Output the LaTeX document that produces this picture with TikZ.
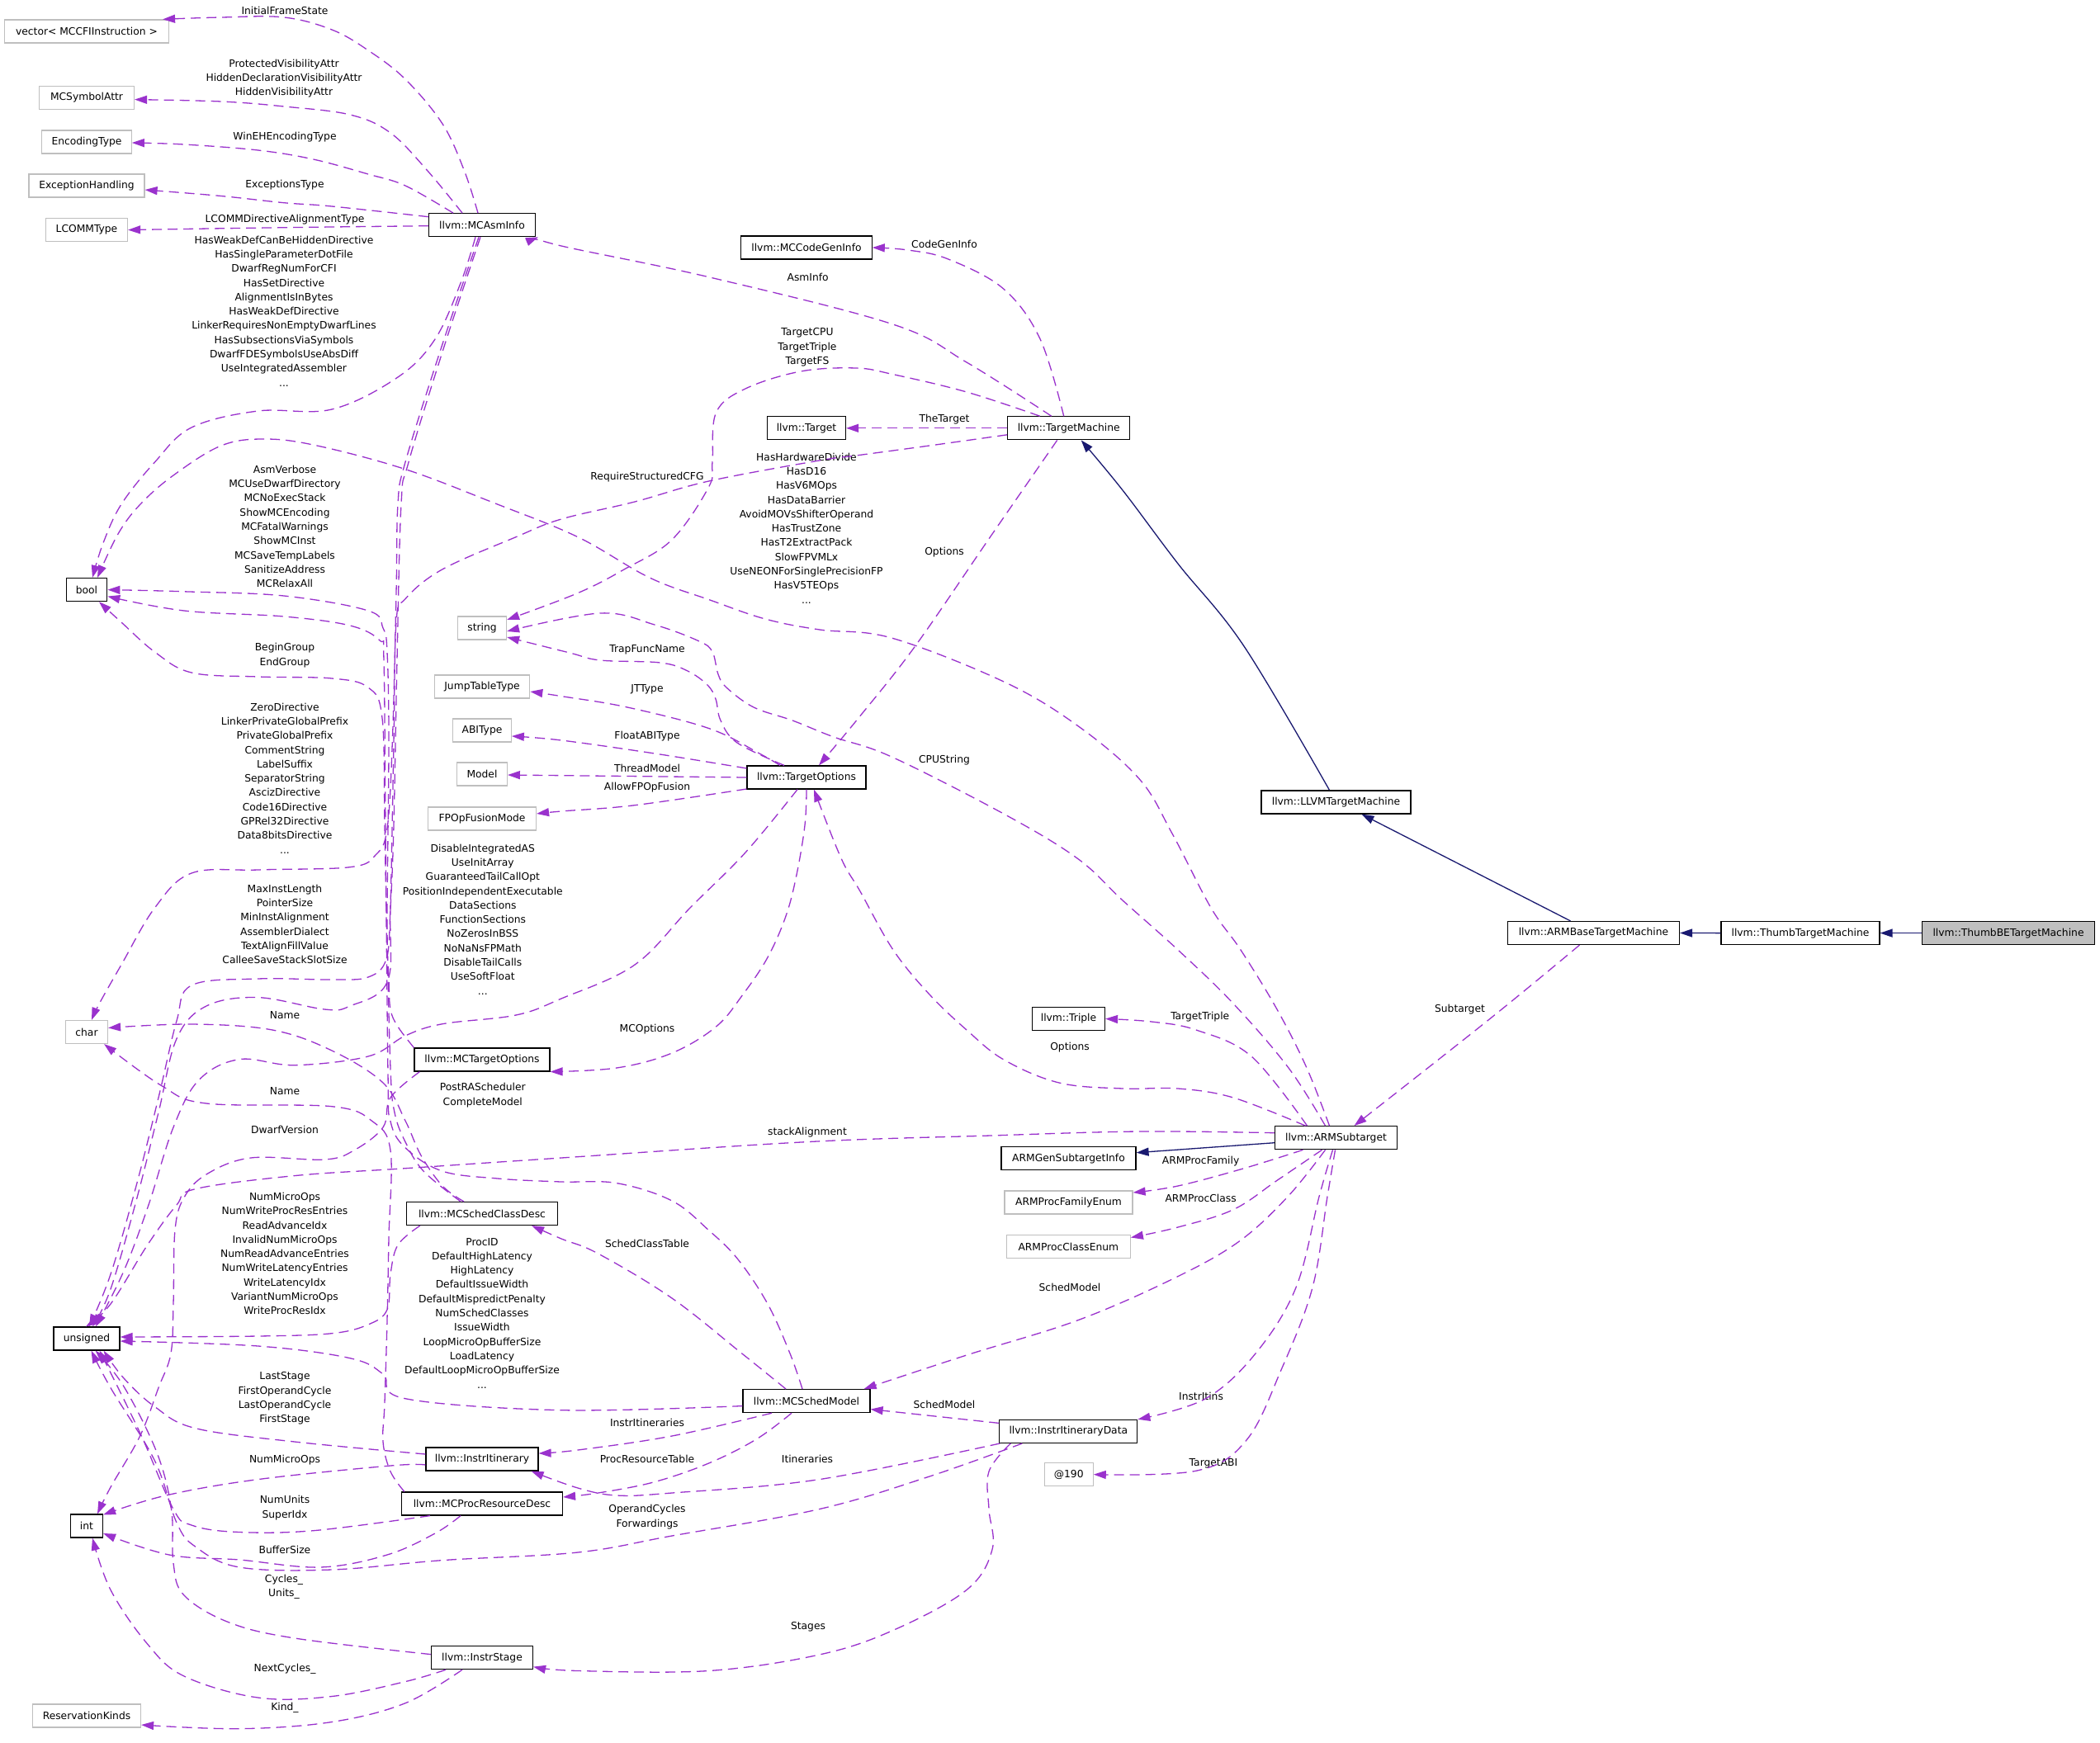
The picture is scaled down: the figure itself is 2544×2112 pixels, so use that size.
\documentclass[tikz,border=0pt]{standalone}
\usepackage{fontspec}
\setmainfont{DejaVu Sans}
\usetikzlibrary{arrows.meta}
\definecolor{edgepurple}{HTML}{9A32CD}
\definecolor{inhblue}{HTML}{191970}
\definecolor{grayborder}{HTML}{BFBFBF}
\newcommand{\dfont}{\fontsize{12.3pt}{17.3pt}\selectfont}
\tikzset{
  cls/.style={draw=black, fill=white, line width=1.2pt, minimum height=28pt, inner sep=0pt, font=\dfont, text=black},
  ext/.style={cls, draw=grayborder},
  lab/.style={font=\dfont, align=center, inner sep=0pt, text=black},
  usedge/.style={draw=edgepurple, line width=1.3pt, dash pattern=on 12pt off 7pt, -{Triangle[length=15pt,width=10pt]}},
  inhedge/.style={draw=inhblue, line width=1.3pt, -{Triangle[length=15pt,width=10pt]}},
  sm/.style={smooth, tension=0.6},
}
\begin{document}
\begin{tikzpicture}[x=1pt,y=-1pt]
\fill[white] (0,0) rectangle (2544,2112);
\useasboundingbox (0,0) rectangle (2544,2112);

% ---------- nodes ----------
\node[ext, minimum width=199pt] (vector) at (105,38) {vector< MCCFIInstruction >};
\node[ext, minimum width=115pt] (MCSymbolAttr) at (105,118.6) {MCSymbolAttr};
\node[ext, minimum width=108.5pt] (EncodingType) at (105,172) {EncodingType};
\node[ext, minimum width=140pt] (ExceptionHandling) at (105,225) {ExceptionHandling};
\node[ext, minimum width=99pt] (LCOMMType) at (105,278.6) {LCOMMType};
\node[cls, minimum width=128.6pt] (MCAsmInfo) at (584,272.7) {llvm::MCAsmInfo};
\node[cls, minimum width=49.5pt] (bool) at (105,714.6) {bool};
\node[ext, minimum width=59pt] (string) at (584,761) {string};
\node[ext, minimum width=115.5pt] (JumpTableType) at (584,832) {JumpTableType};
\node[ext, minimum width=70.5pt] (ABIType) at (584,885) {ABIType};
\node[ext, minimum width=60.7pt] (Model) at (584,938) {Model};
\node[ext, minimum width=131pt] (FPOpFusionMode) at (584,992) {FPOpFusionMode};
\node[ext, minimum width=51pt] (char) at (105,1250.5) {char};
\node[cls, minimum width=164pt] (MCTargetOptions) at (584,1284) {llvm::MCTargetOptions};
\node[cls, minimum width=183pt] (MCSchedClassDesc) at (584,1470.5) {llvm::MCSchedClassDesc};
\node[cls, minimum width=80pt] (unsigned) at (105,1622) {unsigned};
\node[cls, minimum width=136pt] (InstrItinerary) at (584,1768) {llvm::InstrItinerary};
\node[cls, minimum width=195pt] (MCProcResourceDesc) at (584,1822) {llvm::MCProcResourceDesc};
\node[cls, minimum width=39pt] (int) at (105,1849) {int};
\node[cls, minimum width=123pt] (InstrStage) at (584,2008.6) {llvm::InstrStage};
\node[ext, minimum width=131pt] (ReservationKinds) at (105,2079) {ReservationKinds};
\node[cls, minimum width=158.4pt] (MCCodeGenInfo) at (977,300) {llvm::MCCodeGenInfo};
\node[cls, minimum width=95pt] (Target) at (977,518.8) {llvm::Target};
\node[cls, minimum width=148pt] (TargetMachine) at (1294.7,518.8) {llvm::TargetMachine};
\node[cls, minimum width=144pt] (TargetOptions) at (977,942) {llvm::TargetOptions};
\node[cls, minimum width=88pt] (Triple) at (1294.5,1234.5) {llvm::Triple};
\node[cls, minimum width=163pt] (ARMGenSubtargetInfo) at (1294.5,1403.7) {ARMGenSubtargetInfo};
\node[ext, minimum width=155pt] (ARMProcFamilyEnum) at (1294.5,1457) {ARMProcFamilyEnum};
\node[ext, minimum width=150pt] (ARMProcClassEnum) at (1294.3,1510.5) {ARMProcClassEnum};
\node[cls, minimum width=154pt] (MCSchedModel) at (977,1697.6) {llvm::MCSchedModel};
\node[cls, minimum width=167pt] (InstrItineraryData) at (1294.3,1734.4) {llvm::InstrItineraryData};
\node[ext, minimum width=59pt] (a190) at (1294.7,1786.6) {@190};
\node[cls, minimum width=181pt] (LLVMTargetMachine) at (1618.5,972) {llvm::LLVMTargetMachine};
\node[cls, minimum width=208pt] (ARMBaseTargetMachine) at (1930.5,1130.5) {llvm::ARMBaseTargetMachine};
\node[cls, minimum width=148pt] (ARMSubtarget) at (1618.5,1378.7) {llvm::ARMSubtarget};
\node[cls, minimum width=192pt] (ThumbTargetMachine) at (2181,1130.6) {llvm::ThumbTargetMachine};
\node[cls, minimum width=209.5pt, fill=grayborder] (ThumbBETargetMachine) at (2433,1130.6) {llvm::ThumbBETargetMachine};

% ---------- labels ----------
\node[lab] (lIFS) at (345,12.5) {InitialFrameState};
\node[lab] (lPVA) at (344,95) {ProtectedVisibilityAttr\\HiddenDeclarationVisibilityAttr\\HiddenVisibilityAttr};
\node[lab] (lWEH) at (345,166) {WinEHEncodingType};
\node[lab] (lET) at (345,224.6) {ExceptionsType};
\node[lab] (lLC) at (345,266) {LCOMMDirectiveAlignmentType};
\node[lab] (lHW) at (344,377) {HasWeakDefCanBeHiddenDirective\\HasSingleParameterDotFile\\DwarfRegNumForCFI\\HasSetDirective\\AlignmentIsInBytes\\HasWeakDefDirective\\LinkerRequiresNonEmptyDwarfLines\\HasSubsectionsViaSymbols\\DwarfFDESymbolsUseAbsDiff\\UseIntegratedAssembler\\...};
\node[lab] (lAV) at (345,638) {AsmVerbose\\MCUseDwarfDirectory\\MCNoExecStack\\ShowMCEncoding\\MCFatalWarnings\\ShowMCInst\\MCSaveTempLabels\\SanitizeAddress\\MCRelaxAll};
\node[lab] (lBG) at (345,794) {BeginGroup\\EndGroup};
\node[lab] (lZD) at (345,943) {ZeroDirective\\LinkerPrivateGlobalPrefix\\PrivateGlobalPrefix\\CommentString\\LabelSuffix\\SeparatorString\\AscizDirective\\Code16Directive\\GPRel32Directive\\Data8bitsDirective\\...};
\node[lab] (lMIL) at (345,1120) {MaxInstLength\\PointerSize\\MinInstAlignment\\AssemblerDialect\\TextAlignFillValue\\CalleeSaveStackSlotSize};
\node[lab] (lN1) at (345,1230) {Name};
\node[lab] (lN2) at (345,1322.5) {Name};
\node[lab] (lDV) at (345,1368.6) {DwarfVersion};
\node[lab] (lNMO) at (345,1519) {NumMicroOps\\NumWriteProcResEntries\\ReadAdvanceIdx\\InvalidNumMicroOps\\NumReadAdvanceEntries\\NumWriteLatencyEntries\\WriteLatencyIdx\\VariantNumMicroOps\\WriteProcResIdx};
\node[lab] (lLS) at (345,1694.5) {LastStage\\FirstOperandCycle\\LastOperandCycle\\FirstStage};
\node[lab] (lNMO2) at (345,1769) {NumMicroOps};
\node[lab] (lNU) at (345,1827) {NumUnits\\SuperIdx};
\node[lab] (lBS) at (345,1877.5) {BufferSize};
\node[lab] (lCY) at (344,1923) {Cycles\_\\Units\_};
\node[lab] (lNC) at (345,2022) {NextCycles\_};
\node[lab] (lKD) at (345,2069) {Kind\_};
\node[lab] (lTCPU) at (978,421) {TargetCPU\\TargetTriple\\TargetFS};
\node[lab] (lCGI) at (1144,295.7) {CodeGenInfo};
\node[lab] (lAI) at (978.7,335.7) {AsmInfo};
\node[lab] (lTT) at (1144,508.6) {TheTarget};
\node[lab] (lHHD) at (977,640) {HasHardwareDivide\\HasD16\\HasV6MOps\\HasDataBarrier\\AvoidMOVsShifterOperand\\HasTrustZone\\HasT2ExtractPack\\SlowFPVMLx\\UseNEONForSinglePrecisionFP\\HasV5TEOps\\...};
\node[lab] (lRSC) at (784,578) {RequireStructuredCFG};
\node[lab] (lOpt1) at (1144,668.6) {Options};
\node[lab] (lTFN) at (784,787.5) {TrapFuncName};
\node[lab] (lJT) at (784,835.7) {JTType};
\node[lab] (lFAT) at (784,892.5) {FloatABIType};
\node[lab] (lTMo) at (784,931.4) {ThreadModel};
\node[lab] (lAFF) at (784,954.3) {AllowFPOpFusion};
\node[lab] (lCPU) at (1144,920.7) {CPUString};
\node[lab] (lDIA) at (584.8,1114) {DisableIntegratedAS\\UseInitArray\\GuaranteedTailCallOpt\\PositionIndependentExecutable\\DataSections\\FunctionSections\\NoZerosInBSS\\NoNaNsFPMath\\DisableTailCalls\\UseSoftFloat\\...};
\node[lab] (lPRA) at (584.8,1327) {PostRAScheduler\\CompleteModel};
\node[lab] (lMCO) at (784,1247.5) {MCOptions};
\node[lab] (lOpt2) at (1296,1268.6) {Options};
\node[lab] (lTTr) at (1453.75,1231.8) {TargetTriple};
\node[lab] (lSub) at (1768.5,1222.9) {Subtarget};
\node[lab] (lSA) at (978,1372.5) {stackAlignment};
\node[lab] (lAPF) at (1454.6,1407.5) {ARMProcFamily};
\node[lab] (lAPC) at (1454.6,1451.4) {ARMProcClass};
\node[lab] (lSCT) at (784,1506.4) {SchedClassTable};
\node[lab] (lSM1) at (1296,1560) {SchedModel};
\node[lab] (lPID) at (584,1591) {ProcID\\DefaultHighLatency\\HighLatency\\DefaultIssueWidth\\DefaultMispredictPenalty\\NumSchedClasses\\IssueWidth\\LoopMicroOpBufferSize\\LoadLatency\\DefaultLoopMicroOpBufferSize\\...};
\node[lab] (lII) at (784,1724) {InstrItineraries};
\node[lab] (lSM2) at (1144,1702) {SchedModel};
\node[lab] (lPRT) at (784,1768) {ProcResourceTable};
\node[lab] (lIt) at (978,1768) {Itineraries};
\node[lab] (lOC) at (784,1838) {OperandCycles\\Forwardings};
\node[lab] (lIIs) at (1455,1692) {InstrItins};
\node[lab] (lTABI) at (1470,1773) {TargetABI};
\node[lab] (lSt) at (979,1971) {Stages};

% ---------- inheritance ----------
\draw[inhedge] (ThumbBETargetMachine.west) -- (ThumbTargetMachine.east);
\draw[inhedge] (ThumbTargetMachine.west) -- (ARMBaseTargetMachine.east);
\draw[inhedge] ([xshift=-28pt]ARMBaseTargetMachine.north) -- ([xshift=31pt]LLVMTargetMachine.south);
\draw[inhedge] plot[sm] coordinates {([xshift=-8pt]LLVMTargetMachine.north) (1507,783) (1427,683) (1360,594) ([xshift=15pt]TargetMachine.south)};
\draw[inhedge] ([yshift=-6pt]ARMSubtarget.west) -- ([yshift=7pt]ARMGenSubtargetInfo.east);

% ---------- MCAsmInfo uses ----------
\draw[usedge] plot[sm] coordinates {([xshift=-5pt]MCAsmInfo.north) (562.5,207) (536,150) (491,96) (446,61) (402,36) (344,21) (268,21) ([xshift=-8pt]vector.north east)};
\draw[usedge] plot[sm] coordinates {([xshift=-24pt]MCAsmInfo.north) (518,207) (473,161) (424,139) (344,129) (268,123) ([yshift=-2pt]MCSymbolAttr.east)};
\draw[usedge] plot[sm] coordinates {([xshift=-35pt]MCAsmInfo.north) (491,225) (446,211) (379.5,193) (312.5,182) (223,175) ([yshift=-1pt]EncodingType.east)};
\draw[usedge] plot[sm] coordinates {([yshift=10pt]MCAsmInfo.west) (402,250) (344,245.7) (268,237.5) ([yshift=-5pt]ExceptionHandling.east)};
\draw[usedge] plot[sm] coordinates {([yshift=-1pt]MCAsmInfo.west) (402,275) (268,276.8) (LCOMMType.east)};
\draw[usedge] plot[sm] coordinates {([xshift=-8pt]MCAsmInfo.south) (558,343) (527,411) (482,457) (402,496) (312.5,498) (232,518) (187.5,560) (147,611) (125,658) ([xshift=7pt]bool.north)};
\draw[usedge] plot[sm] coordinates {([xshift=-4pt]MCAsmInfo.south) (535,420) (491,560) (482,611) (480,718.6) (475.4,897) (469,1004) (455,1036) (424,1050.7) (312.5,1054) (232,1058) (187.5,1100) (147,1169) (120.5,1215.7) ([xshift=6pt]char.north)};
\draw[usedge] plot[sm] coordinates {([xshift=-2pt]MCAsmInfo.south) (538,420) (495,560) (486,611) (481,800) (477,1000) (473,1100) (468,1162) (446,1184) (402,1187) (312,1186) (232,1194) (214,1237) (192,1330) (165,1437) (134,1544) ([xshift=3pt]unsigned.north)};

% ---------- TargetMachine uses ----------
\draw[usedge] plot[sm] coordinates {([xshift=-6pt]TargetMachine.north) (1260,410.7) (1215.7,350) (1148.75,314) (1100,303) (MCCodeGenInfo.east)};
\draw[usedge] plot[sm] coordinates {([xshift=-21pt]TargetMachine.north) (1171,439) (1081.8,393) (858.6,335.7) (680,298) ([xshift=3pt]MCAsmInfo.south east)};
\draw[usedge] (TargetMachine.west) -- (Target.east);
\draw[usedge] plot[sm] coordinates {([xshift=-35pt]TargetMachine.north) (1171,475) (1081.8,453.6) (1037,446) (970,450) (903,471) (867.5,500) (863,560) (858.6,590) (814,654) (756,690) (700,718.6) ([yshift=10pt]string.east)};
\draw[usedge] plot[sm] coordinates {([yshift=-8pt]TargetMachine.west) (1126,540) (1037,552) (992.5,558) (858.6,583) (769,608) (680,629) (625,650.7) (535.7,690) (491,725.7) (480,754) (477,900) (473,1100) (469,1190) (424,1219) (393,1223) (312.5,1208.6) (250,1219) (214,1258.6) (192,1348) (165,1455) (134,1562) ([xshift=7pt]unsigned.north)};
\draw[usedge] plot[sm] coordinates {([xshift=-14pt]TargetMachine.south) (1200,650) (1108.6,783) (1040,870) ([xshift=15pt]TargetOptions.north)};

% ---------- TargetOptions uses ----------
\draw[usedge] plot[sm] coordinates {([xshift=-27pt]TargetOptions.north) (893,900) (873,873) (867,847) (857,830) (833,813) (800,803) (727,800) (690,791) ([yshift=-11pt]string.east)};
\draw[usedge] plot[sm] coordinates {([xshift=-32pt]TargetOptions.north) (920,913) (860,883) (760,857) (680,843.6) ([yshift=-6pt]JumpTableType.east)};
\draw[usedge] plot[sm] coordinates {([yshift=11pt]TargetOptions.west) (793,913) (680,897) ([yshift=-7pt]ABIType.east)};
\draw[usedge] (TargetOptions.west) -- ([yshift=-1pt]Model.east);
\draw[usedge] plot[sm] coordinates {([yshift=-14pt]TargetOptions.west) (769,975.7) (680,983) ([yshift=6pt]FPOpFusionMode.east)};
\draw[usedge] plot[sm] coordinates {(TargetOptions.south) (975,1000) (965,1060) (952,1110) (930,1160) (900,1205) (867.5,1244) (814,1276) (747,1294) (MCTargetOptions.south east)};
\draw[usedge] plot[sm] coordinates {([xshift=-11pt]TargetOptions.south) (903,1033) (836,1100) (769,1169) (680,1210) (625,1230) (536,1240.7) (491,1255) (446,1280) (357,1290.7) (290,1283.6) (241,1308.6) (210,1366) (180,1460) (150,1540) ([xshift=11pt]unsigned.north)};

% ---------- MCTargetOptions uses ----------
\draw[usedge] plot[sm] coordinates {([xshift=7pt]MCTargetOptions.south west) (473,1330) (464,1366) (428.6,1394) (393,1405) (303.6,1403) (250,1423) (223,1451) (212,1490.7) (210,1580) (207,1640) (192,1681.6) (169.6,1740) (134,1802) ([xshift=13pt]int.north)};
\draw[usedge] plot[sm] coordinates {(MCTargetOptions.north west) (482,1244) (473,1223) (471,1187) (469,1116) (471,900) (469,790) (464,761) (446,740) (344,722) (223,716.8) (bool.east)};

% ---------- MCSchedModel uses ----------
\draw[usedge] plot[sm] coordinates {([xshift=-5pt]MCSchedModel.north) (957,1640) (930,1580) (894,1526) (858.6,1490.7) (814,1455) (747,1433.6) (680,1432) (602.7,1428) (535.7,1419) (491,1390.7) (473,1358.6) (470,1300) (467,1000) (465,800) (460,776) (424,758) (344,747) (223,740) ([yshift=-8pt]bool.east)};
\draw[usedge] plot[sm] coordinates {([xshift=-25pt]MCSchedModel.north) (898.75,1640) (814,1573) (724.6,1519) (680,1501) ([xshift=-32pt]MCSchedClassDesc.south east)};
\draw[usedge] plot[sm] coordinates {([yshift=-6pt]MCSchedModel.west) (680,1708.7) (491,1694.7) (464,1665) (424,1645.7) (312.5,1631) ([yshift=-3pt]unsigned.east)};
\draw[usedge] plot[sm] coordinates {([xshift=-42pt]MCSchedModel.south) (814,1740) (700,1757) ([yshift=7pt]InstrItinerary.east)};
\draw[usedge] plot[sm] coordinates {([xshift=-18pt]MCSchedModel.south) (916.6,1743.7) (858.6,1773) (791.6,1796) (724.6,1809) ([yshift=8pt]MCProcResourceDesc.east)};

% ---------- MCSchedClassDesc uses ----------
\draw[usedge] plot[sm] coordinates {([xshift=-26pt]MCSchedClassDesc.north) (513,1419) (491,1383.6) (478,1348) (473,1294) (468,1100) (466,1000) (463,870) (446,833) (402,822) (312.5,820) (232,815) (187.5,790) (147,754) ([xshift=15pt]bool.south)};
\draw[usedge] plot[sm] coordinates {([xshift=-22pt]MCSchedClassDesc.north) (536,1437) (510,1400) (491,1358) (464,1312) (402,1273) (330,1248) (232,1241) ([yshift=5pt]char.east)};
\draw[usedge] plot[sm] coordinates {([xshift=17pt]MCSchedClassDesc.south west) (482,1508.6) (473,1544) (469,1587) (446,1605) (402,1615.7) (312.5,1619) ([yshift=2pt]unsigned.east)};

% ---------- MCProcResourceDesc uses ----------
\draw[usedge] plot[sm] coordinates {([xshift=4pt]MCProcResourceDesc.north west) (473,1783) (464,1747) (466,1700) (469,1600) (471,1500) (473,1394) (451,1358.6) (402,1340.7) (250,1337) (196,1315.7) ([xshift=-5pt]char.south east)};
\draw[usedge] plot[sm] coordinates {([xshift=35pt]MCProcResourceDesc.south west) (379.5,1854.7) (285.7,1856.3) (232,1848) (210,1828.6) (170,1737) ([xshift=-25pt]unsigned.south east)};
\draw[usedge] plot[sm] coordinates {([xshift=-26pt]MCProcResourceDesc.south) (527,1858) (469,1884) (388,1899) (290,1890) (205,1884) ([yshift=-9pt]int.east)};

% ---------- InstrItinerary uses ----------
\draw[usedge] plot[sm] coordinates {([yshift=6pt]InstrItinerary.west) (357,1747) (236.6,1730.6) (187.5,1704.5) (150,1670) ([xshift=-20pt]unsigned.south east)};
\draw[usedge] plot[sm] coordinates {([yshift=-7pt]InstrItinerary.west) (473,1776) (312.5,1792.6) (201,1812) ([yshift=-1pt]int.north east)};

% ---------- InstrStage uses ----------
\draw[usedge] plot[sm] coordinates {([xshift=-44pt]InstrStage.south) (491,2037.6) (402,2055.5) (312.5,2057) (223,2031) (178.6,1992) (134,1926.5) ([xshift=7pt]int.south)};
\draw[usedge] plot[sm] coordinates {([xshift=-24pt]InstrStage.south) (491,2063.7) (402,2086.5) (290,2094.7) ([yshift=-11pt]ReservationKinds.east)};
\draw[usedge] plot[sm] coordinates {([yshift=4pt]InstrStage.west) (357,1985) (277,1965.7) (223,1933) (210,1894) (207.6,1828.6) (190,1760) (150,1680) ([xshift=-30pt]unsigned.south east)};

% ---------- InstrItineraryData uses ----------
\draw[usedge] plot[sm] coordinates {([xshift=-56pt]InstrItineraryData.south) (1126,1789) (992.5,1828.6) (814,1861) (700,1881) (536,1890.6) (402,1902) (290,1899) (236.6,1874) (214,1845) (187.5,1770) (134,1681.6) ([xshift=-35pt]unsigned.south east)};
\draw[usedge] plot[sm] coordinates {([xshift=-70pt]InstrItineraryData.south) (1198,1783) (1198,1828.6) (1202,1877.5) (1171,1926.5) (1081.8,1975.5) (992.5,2005) (858.6,2024.5) (700,2024.5) ([yshift=-11pt]InstrStage.east)};
\draw[usedge] plot[sm] coordinates {([xshift=-83pt]InstrItineraryData.south) (992.5,1792.6) (814,1809) (747,1812) (700,1803) ([xshift=-9pt]InstrItinerary.south east)};
\draw[usedge] ([yshift=10pt]InstrItineraryData.west) -- ([yshift=-10pt]MCSchedModel.east);

% ---------- ARMSubtarget uses ----------
\draw[usedge] plot[sm] coordinates {([xshift=-8pt]ARMSubtarget.north) (1583,1294) (1547,1223) (1503,1151) (1467,1100) (1420,1010) (1380,943.6) (1305,879) (1216,826) (1080,773) (993,763) (927,750) (860,727) (787,700) (700,650.7) (600,610) (491,568.6) (384,540) (321,532) (268,540) (210,576) (170,611) (143,647) ([xshift=13pt]bool.north)};
\draw[usedge] plot[sm] coordinates {([xshift=-13pt]ARMSubtarget.north) (1561,1294) (1494,1216) (1427,1151) (1360,1091) (1305,1040) (1215.7,986) (1080,917) (1010,893) (960,873) (913,857) (880,833) (870,817) (863,790) (847,777) (793,757) (727,743) ([yshift=-4pt]string.east)};
\draw[usedge] plot[sm] coordinates {([xshift=-35pt]ARMSubtarget.north) (1516,1280) (1449,1248) (1395,1238) (Triple.east)};
\draw[usedge] plot[sm] coordinates {([xshift=-37pt]ARMSubtarget.north) (1494,1330) (1427,1319) (1360,1319) (1283,1312) (1216,1284) (1171,1248) (1126,1205) (1082,1151) (1042,1080) (1019,1040) ([xshift=9pt]TargetOptions.south)};
\draw[usedge] plot[sm] coordinates {([yshift=6pt]ARMSubtarget.west) (1380,1371) (1200,1376) (978,1383.6) (680,1403) (491,1415.7) (357,1424.6) (236.6,1440.7) (214,1460) (178.6,1508.6) (134,1580) ([xshift=-1pt]unsigned.north)};
\draw[usedge] plot[sm] coordinates {([xshift=-40pt]ARMSubtarget.south) (1507,1415.7) (1427,1437) ([yshift=12pt]ARMProcFamilyEnum.east)};
\draw[usedge] plot[sm] coordinates {([xshift=-17pt]ARMSubtarget.south) (1547.5,1430) (1494,1465.7) (1427,1487) ([yshift=11pt]ARMProcClassEnum.east)};
\draw[usedge] plot[sm] coordinates {([xshift=-13pt]ARMSubtarget.south) (1560,1450) (1500,1505) (1420,1550) (1305,1600) (1171,1642) ([xshift=-8pt]MCSchedModel.north east)};
\draw[usedge] plot[sm] coordinates {([xshift=-4pt]ARMSubtarget.south) (1598,1450) (1570,1560) (1521,1640) (1460,1695) (InstrItineraryData.north east)};
\draw[usedge] plot[sm] coordinates {([xshift=-1pt]ARMSubtarget.south) (1608,1450) (1590,1560) (1552,1660) (1510,1745) (1450,1782) (a190.east)};

% ---------- ARMBaseTargetMachine uses ----------
\draw[usedge] plot[sm] coordinates {([xshift=-17pt]ARMBaseTargetMachine.south) (1806,1233.6) ([xshift=22pt]ARMSubtarget.north)};

\end{tikzpicture}
\end{document}
